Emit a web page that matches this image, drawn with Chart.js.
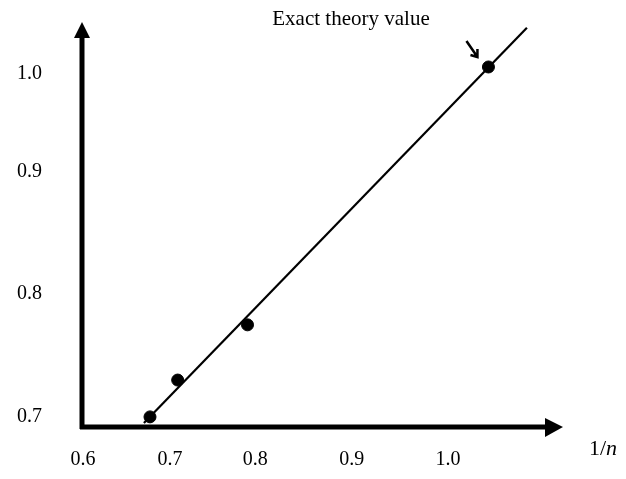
<!DOCTYPE html>
<html>
<head>
<meta charset="utf-8">
<script src="https://cdn.jsdelivr.net/npm/chart.js@4.4.1/dist/chart.umd.min.js"></script>
<style>
    html, body { margin: 0; padding: 0; background: #fff; }
    #wrap { width: 626px; height: 479px; position: relative; }
</style>
</head>
<body>
<div id="wrap"><canvas id="fitChart"></canvas></div>
<script>
// data
const xTicks = [0.6, 0.7, 0.8, 0.9, 1.0];
const yTicks = [0.7, 0.8, 0.9, 1.0];
const invN = [0.677, 0.709, 0.791, 1.042];
const yValues = [0.700, 0.730, 0.775, 1.007];
const fitX = [0.670, 1.082];
const fitY = [0.695, 1.047];
const noteText = 'Exact theory value';

// the hand-drawn axes are not evenly spaced: where each tick sits along its axis (0..1)
const xTickFrac = [0.002, 0.183, 0.360, 0.561, 0.761];
const yTickFrac = [0.025, 0.328, 0.630, 0.872];
const knots = {
    x: { values: xTicks, frac: xTickFrac },
    y: { values: yTicks, frac: yTickFrac }
};

// linear scale with a piecewise mapping between the ticks
class PiecewiseScale extends Chart.LinearScale {
    valueToDecimal(v) {
        const k = knots[this.id];
        let i = 0;
        while (i < k.values.length - 2 && v > k.values[i + 1]) i++;
        const t = (v - k.values[i]) / (k.values[i + 1] - k.values[i]);
        return k.frac[i] + t * (k.frac[i + 1] - k.frac[i]);
    }
    getPixelForValue(v) {
        if (v === null || v === undefined || isNaN(v)) return NaN;
        return this.getPixelForDecimal(this.valueToDecimal(v));
    }
    getValueForPixel(p) {
        const k = knots[this.id];
        const d = this.getDecimalForPixel(p);
        let i = 0;
        while (i < k.frac.length - 2 && d > k.frac[i + 1]) i++;
        const t = (d - k.frac[i]) / (k.frac[i + 1] - k.frac[i]);
        return k.values[i] + t * (k.values[i + 1] - k.values[i]);
    }
}
PiecewiseScale.id = 'piecewise';
Chart.register(PiecewiseScale);

const serif = '"Liberation Serif", "Times New Roman", serif';

// axes with arrow heads, the note arrow and the 1/n label
const decorPlugin = {
    id: 'decor',
    afterDraw(chart) {
        const ctx = chart.ctx;
        const a = chart.chartArea;
        const xs = chart.scales.x, ys = chart.scales.y;
        ctx.save();
        ctx.fillStyle = '#000';
        ctx.strokeStyle = '#000';

        // y axis
        ctx.lineWidth = 5;
        ctx.beginPath();
        ctx.moveTo(a.left, a.bottom + 2);
        ctx.lineTo(a.left, a.top + 12);
        ctx.stroke();
        ctx.beginPath();
        ctx.moveTo(a.left, a.top);
        ctx.lineTo(a.left - 8, a.top + 16);
        ctx.lineTo(a.left + 8, a.top + 16);
        ctx.closePath();
        ctx.fill();

        // x axis
        ctx.beginPath();
        ctx.moveTo(a.left - 2, a.bottom);
        ctx.lineTo(a.right - 14, a.bottom);
        ctx.stroke();
        ctx.beginPath();
        ctx.moveTo(a.right, a.bottom);
        ctx.lineTo(a.right - 18, a.bottom - 9);
        ctx.lineTo(a.right - 18, a.bottom + 10);
        ctx.closePath();
        ctx.fill();

        // 1/n
        ctx.textBaseline = 'alphabetic';
        ctx.textAlign = 'left';
        ctx.font = '22px ' + serif;
        ctx.fillText('1/', 589, 455);
        const w = ctx.measureText('1/').width;
        ctx.font = 'italic 22px ' + serif;
        ctx.fillText('n', 589 + w, 455);

        // note arrow pointing at the exact value
        const px = xs.getPixelForValue(invN[3]);
        const py = ys.getPixelForValue(yValues[3]);
        ctx.lineWidth = 2.5;
        ctx.beginPath();
        ctx.moveTo(px - 22, py - 26);
        ctx.lineTo(px - 11, py - 10);
        ctx.moveTo(px - 18, py - 12);
        ctx.lineTo(px - 11, py - 10);
        ctx.lineTo(px - 11, py - 18);
        ctx.stroke();

        ctx.font = '21px ' + serif;
        ctx.textAlign = 'center';
        ctx.fillText(noteText, 351, 25);
        ctx.restore();
    }
};

document.addEventListener('DOMContentLoaded', function() {
    const ctx = document.getElementById('fitChart').getContext('2d');
    const fitChart = new Chart(ctx, {
        data: {
            datasets: [
                {
                    type: 'scatter',
                    label: 'measured',
                    data: invN.map((x, i) => ({ x: x, y: yValues[i] })),
                    backgroundColor: '#000',
                    borderColor: '#000',
                    pointRadius: 6,
                    pointHoverRadius: 6
                },
                {
                    type: 'line',
                    label: 'fit',
                    data: fitX.map((x, i) => ({ x: x, y: fitY[i] })),
                    borderColor: '#000',
                    borderWidth: 2.2,
                    pointRadius: 0,
                    fill: false,
                    clip: false
                }
            ]
        },
        options: {
            responsive: true,
            maintainAspectRatio: false,
            animation: false,
            layout: {
                padding: { top: 22, right: 63, left: 0, bottom: 0 }
            },
            scales: {
                x: {
                    type: 'piecewise',
                    min: 0.599,
                    max: 1.13,
                    border: { display: false },
                    grid: { display: false, drawTicks: false },
                    afterBuildTicks: s => { s.ticks = xTicks.map(v => ({ value: v })); },
                    afterFit: s => {
                        s.height = 52;
                        s.paddingLeft = 0; s.paddingRight = 0;
                        s.paddingTop = 0; s.paddingBottom = 0;
                    },
                    ticks: {
                        padding: 21,
                        color: '#000',
                        font: { family: serif, size: 20 },
                        callback: v => Number(v).toFixed(1)
                    }
                },
                y: {
                    type: 'piecewise',
                    min: 0.69,
                    max: 1.06,
                    border: { display: false },
                    grid: { display: false, drawTicks: false },
                    afterBuildTicks: s => { s.ticks = yTicks.map(v => ({ value: v })); },
                    afterFit: s => {
                        s.width = 82;
                        s.paddingLeft = 0; s.paddingRight = 0;
                        s.paddingTop = 0; s.paddingBottom = 0;
                    },
                    ticks: {
                        padding: 40,
                        color: '#000',
                        font: { family: serif, size: 20 },
                        callback: v => Number(v).toFixed(1)
                    }
                }
            },
            plugins: {
                legend: { display: false },
                tooltip: { enabled: false }
            }
        },
        plugins: [decorPlugin]
    });
});
</script>
</body>
</html>
